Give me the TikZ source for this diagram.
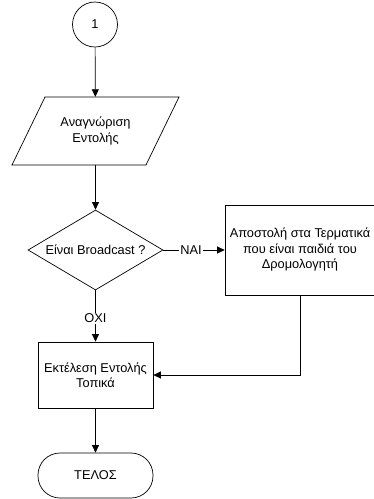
\documentclass[tikz,border=0pt]{standalone}
\usepackage{fontspec}
\setmainfont{Liberation Sans}
\usetikzlibrary{shapes.geometric,arrows.meta}
\begin{document}
\begin{tikzpicture}[x=1pt,y=-1pt,
  every node/.style={font=\fontsize{12.8}{15.5}\selectfont, align=center, inner sep=0pt},
  line/.style={line width=0.7pt},
  flow/.style={line, -{Triangle[length=7.5pt,width=7pt]}},
  proc/.style={draw, line width=0.7pt, rectangle},
  lbl/.style={fill=white, inner sep=1pt}]
\useasboundingbox (0,0) rectangle (373,499);

% connector circle
\node[draw, line width=0.7pt, circle, minimum size=45pt] (start) at (95,24.5) {1};

% input/output parallelogram
\draw[line] (45,97) -- (179,97) -- (146,165) -- (12,165) -- cycle;
\node[minimum width=100pt, minimum height=68pt] (recog) at (95.5,131) {Αναγνώριση\\Εντολής};

% decision
\node[draw, line width=0.7pt, diamond, aspect=1.69, minimum width=135pt, minimum height=80pt] (dec) at (95.5,250) {Είναι Broadcast ?};

% forward to the children terminals
\node[proc, minimum width=150pt, minimum height=90pt] (fwd) at (300,250) {Αποστολή στα Τερματικά\\που είναι παιδιά του\\Δρομολογητή};

% local execution
\node[proc, minimum width=115pt, minimum height=66pt] (exec) at (95.5,375) {Εκτέλεση Εντολής\\Τοπικά};

% terminator
\node[draw, line width=0.7pt, rectangle, rounded corners=22pt, minimum width=115pt, minimum height=45pt] (stop) at (95.5,475.5) {ΤΕΛΟΣ};

\draw[flow] (start) -- (recog);
\draw[flow] (recog) -- (dec);
\draw[flow] (dec) -- node[lbl, pos=0.45] {ΝΑΙ} (fwd);
\draw[flow] (dec) -- node[lbl, pos=0.54] {ΟΧΙ} (exec);
\draw[flow] (fwd.south) |- (exec.east);
\draw[flow] (exec) -- (stop);
\end{tikzpicture}
\end{document}
